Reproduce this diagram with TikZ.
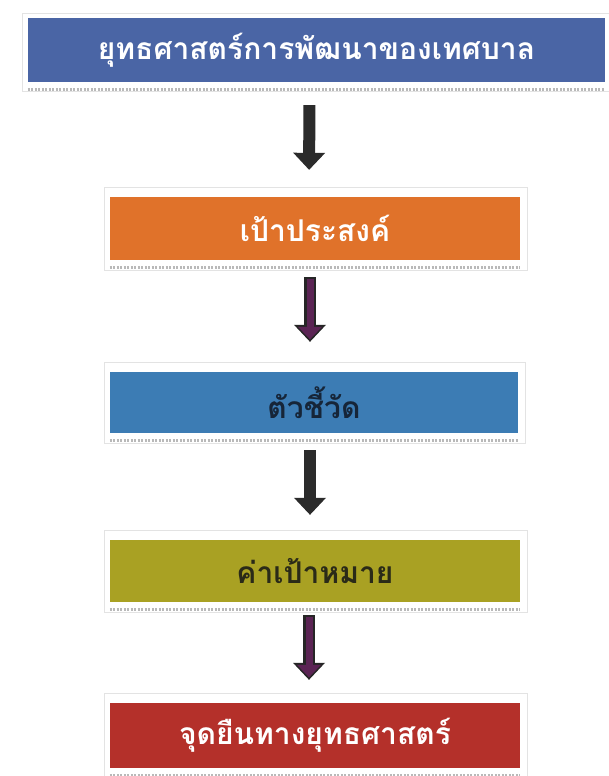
\documentclass[tikz,border=0pt]{standalone}
\usepackage{fontspec}
\newfontfamily\thaifont[Script=Thai]{Loma}
\usetikzlibrary{arrows.meta}
\definecolor{cA}{HTML}{4A65A5}
\definecolor{cB}{HTML}{E0722A}
\definecolor{cC}{HTML}{3C7CB4}
\definecolor{cD}{HTML}{A9A123}
\definecolor{cE}{HTML}{B4302A}
\definecolor{txtC}{HTML}{162538}
\definecolor{txtD}{HTML}{2A2A18}
\definecolor{arrK}{HTML}{2B2B2B}
\definecolor{arrP}{HTML}{5B2454}
\begin{document}
\begin{tikzpicture}[x=1pt,y=-1pt,
  box/.style={rectangle, inner sep=0pt, font=\thaifont\bfseries\fontsize{30}{32}\selectfont},
  frame/.style={draw=gray!22, line width=1pt},
  hatch/.style={draw=gray!55, line width=3pt, dash pattern=on 2pt off 1.5pt},
  blkarrow/.style={draw=arrK, line width=12pt, -{Triangle[width=32pt,length=17pt,line width=0pt]}},
  purarrowout/.style={draw=black!85, line width=12pt, -{Triangle[width=32pt,length=17pt,line width=0pt]}},
  purarrowin/.style={draw=arrP, line width=7pt, -{Triangle[width=24pt,length=12.5pt,line width=0pt]}}
]
\useasboundingbox (0,0) rectangle (609,776);
\fill[white] (0,0) rectangle (609,776);
% boxes
\node[box, fill=cA, minimum width=577pt, minimum height=64pt, text=white] (b1) at (316.5,50) {ยุทธศาสตร์การพัฒนาของเทศบาล};
\node[box, fill=cB, minimum width=410pt, minimum height=63pt, text=white] (b2) at (315,228.5) {เป้าประสงค์};
\node[box, fill=cC, minimum width=408pt, minimum height=61pt, text=txtC] (b3) at (314,402.5) {ตัวชี้วัด};
\node[box, fill=cD, minimum width=410pt, minimum height=62pt, text=txtD] (b4) at (315,571) {ค่าเป้าหมาย};
\node[box, fill=cE, minimum width=410pt, minimum height=65pt, text=white] (b5) at (315,735.5) {จุดยืนทางยุทธศาสตร์};
% frames and hatched shadows
\draw[frame] ([shift={(-5,-4)}]b1.north west) rectangle ([shift={(4,9)}]b1.south east);
\foreach \b in {b2,b3,b4,b5}{
  \draw[frame] ([shift={(-5,-9)}]\b.north west) rectangle ([shift={(7,10)}]\b.south east);
}
\foreach \b in {b1,b2,b3,b4,b5}{
  \draw[hatch] ([shift={(0,7)}]\b.south west) -- ([shift={(0,7)}]\b.south east);
}
% arrows
\draw[blkarrow, shorten <=23pt, shorten >=27pt] ([xshift=-7pt]b1.south) -- ([xshift=-6pt]b2.north);
\draw[purarrowout, shorten <=17pt, shorten >=30pt] ([xshift=-5pt]b2.south) -- ([xshift=-4pt]b3.north);
\draw[purarrowin, shorten <=18.5pt, shorten >=32.5pt] ([xshift=-5pt]b2.south) -- ([xshift=-4pt]b3.north);
\draw[blkarrow, shorten <=17pt, shorten >=25pt] ([xshift=-4pt]b3.south) -- ([xshift=-5pt]b4.north);
\draw[purarrowout, shorten <=13pt, shorten >=23pt] ([xshift=-6pt]b4.south) -- ([xshift=-6pt]b5.north);
\draw[purarrowin, shorten <=14.5pt, shorten >=25.5pt] ([xshift=-6pt]b4.south) -- ([xshift=-6pt]b5.north);
\end{tikzpicture}
\end{document}
